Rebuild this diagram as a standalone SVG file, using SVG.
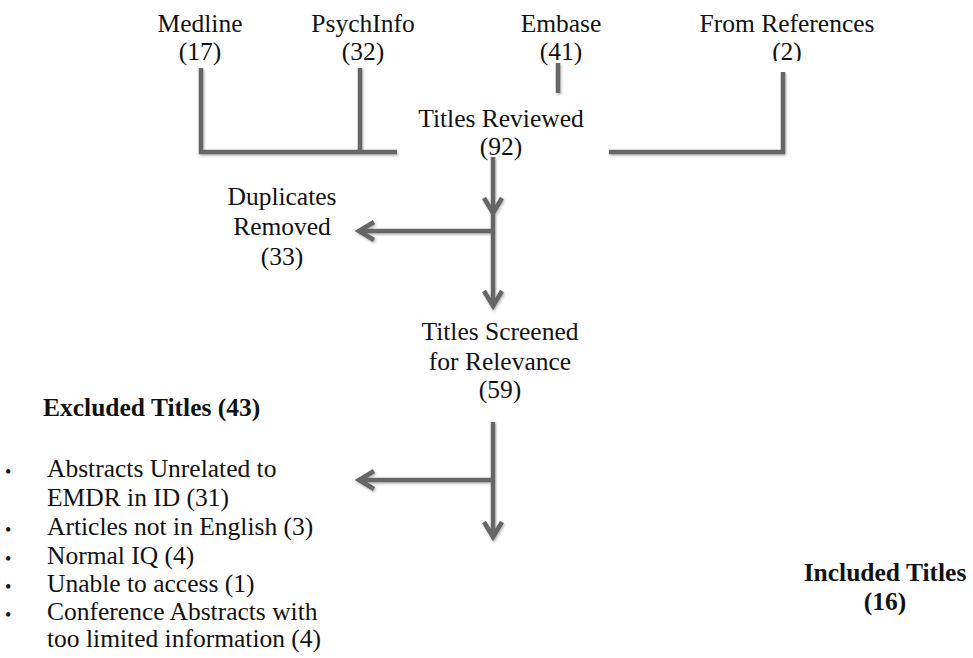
<svg xmlns="http://www.w3.org/2000/svg" width="973" height="658" viewBox="0 0 973 658">
<style>
text{font-family:"Liberation Serif","Times New Roman",Tinos,serif;font-size:25.5px;fill:#111}
.c{text-anchor:middle}
.b{font-weight:bold}
.bul{font-size:18px}
.ln{fill:none;stroke:#666;stroke-width:4.5;stroke-linecap:butt;stroke-linejoin:miter}
</style>
<defs>
<filter id="sh" x="-20%" y="-20%" width="140%" height="140%">
<feDropShadow dx="1" dy="1.5" stdDeviation="1.2" flood-color="#000" flood-opacity="0.3"/>
</filter>
<marker id="ch" markerUnits="userSpaceOnUse" viewBox="-20 -12 24 24" refX="0" refY="0" markerWidth="24" markerHeight="24" orient="auto">
<path d="M-15,-9 L0,0 L-15,9" fill="none" stroke="#666" stroke-width="4.5" stroke-linejoin="miter"/>
</marker>
<clipPath id="clip2"><rect x="700" y="35" width="200" height="26"/></clipPath>
</defs>
<g id="connectors" filter="url(#sh)">
<path class="ln" d="M201,68 V152 H397"/>
<path class="ln" d="M360,68 V152"/>
<path class="ln" d="M558,63 V93"/>
<path class="ln" d="M783,72 V152 H609"/>
<path class="ln" d="M493,157 V213" marker-end="url(#ch)"/>
<path class="ln" d="M493,213 V306" marker-end="url(#ch)"/>
<path class="ln" d="M493,231 H359" marker-end="url(#ch)"/>
<path class="ln" d="M493,422 V537" marker-end="url(#ch)"/>
<path class="ln" d="M493,480 H359" marker-end="url(#ch)"/>
</g>
<g id="medline"><text class="c" x="200" y="32">Medline</text><text class="c" x="200" y="60">(17)</text></g>
<g id="psychinfo"><text class="c" x="363" y="32">PsychInfo</text><text class="c" x="363" y="60">(32)</text></g>
<g id="embase"><text class="c" x="561" y="32">Embase</text><text class="c" x="561" y="60">(41)</text></g>
<g id="references"><text class="c" x="787" y="32">From References</text><text class="c" x="787" y="60" clip-path="url(#clip2)">(2)</text></g>
<g id="reviewed"><text class="c" x="501" y="127">Titles Reviewed</text><text class="c" x="501" y="155">(92)</text></g>
<g id="duplicates"><text class="c" x="282" y="205">Duplicates</text><text class="c" x="282" y="235">Removed</text><text class="c" x="282" y="265">(33)</text></g>
<g id="screened"><text class="c" x="500" y="340">Titles Screened</text><text class="c" x="500" y="370">for Relevance</text><text class="c" x="500" y="398">(59)</text></g>
<g id="excluded">
<text class="b" x="43" y="416">Excluded Titles (43)</text>
<text class="bul" x="5" y="478">•</text><text x="47" y="477">Abstracts Unrelated to</text>
<text x="47" y="506">EMDR in ID (31)</text>
<text class="bul" x="5" y="536">•</text><text x="47" y="535">Articles not in English (3)</text>
<text class="bul" x="5" y="565">•</text><text x="47" y="564">Normal IQ (4)</text>
<text class="bul" x="5" y="593">•</text><text x="47" y="592">Unable to access (1)</text>
<text class="bul" x="5" y="621">•</text><text x="47" y="620">Conference Abstracts with</text>
<text x="47" y="647">too limited information (4)</text>
</g>
<g id="included"><text class="c b" x="885" y="581">Included Titles</text><text class="c b" x="885" y="610">(16)</text></g>
</svg>
